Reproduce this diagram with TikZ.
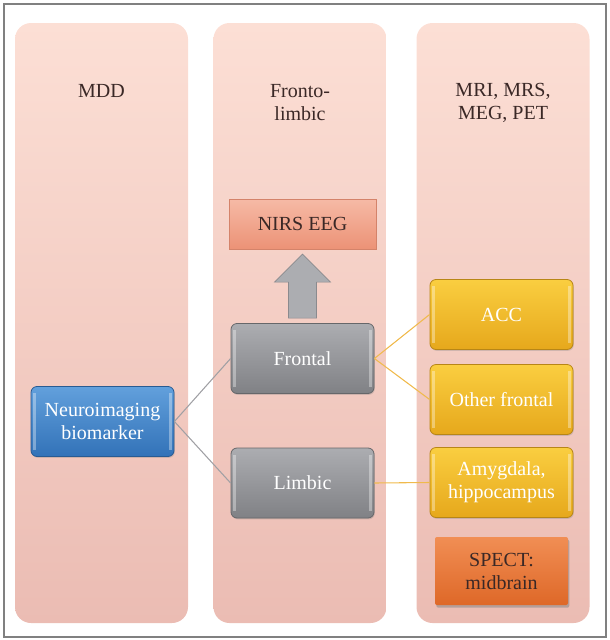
\documentclass[tikz,border=0pt]{standalone}
\usepackage{fontspec}
\setmainfont{Liberation Serif}
\usetikzlibrary{shadows}
\begin{document}
\begin{tikzpicture}[x=0.75pt,y=-0.75pt]
\definecolor{coltop}{RGB}{252,223,213}
\definecolor{colbot}{RGB}{235,188,179}
\definecolor{bluetop}{RGB}{98,160,220}
\definecolor{bluebot}{RGB}{50,114,184}
\definecolor{grytop}{RGB}{172,173,177}
\definecolor{grybot}{RGB}{128,129,133}
\definecolor{goldtop}{RGB}{250,206,64}
\definecolor{goldbot}{RGB}{230,168,28}
\definecolor{nirstop}{RGB}{246,186,166}
\definecolor{nirsbot}{RGB}{236,146,118}
\definecolor{specttop}{RGB}{241,142,84}
\definecolor{spectbot}{RGB}{222,104,40}
\definecolor{darktext}{RGB}{58,40,38}
\tikzstyle{txt}=[font=\fontsize{15}{17.25}\selectfont,align=center]
\tikzstyle{column}=[rounded corners=12pt,top color=coltop,bottom color=colbot,minimum width=129.75pt,minimum height=450pt,inner sep=0pt]
\tikzstyle{title}=[txt,text=darktext]
\tikzstyle{bevel}=[path picture={
  \fill[white,opacity=0.35,sharp corners,draw=none] ([xshift=1.5pt,yshift=-5pt]path picture bounding box.north west) rectangle ([xshift=3.5pt,yshift=5pt]path picture bounding box.south west);
  \fill[white,opacity=0.35,sharp corners,draw=none] ([xshift=-3.5pt,yshift=-5pt]path picture bounding box.north east) rectangle ([xshift=-1.5pt,yshift=5pt]path picture bounding box.south east);}]
\tikzstyle{box}=[txt,text=white,rounded corners=4.5pt,minimum width=107.25pt,minimum height=52.5pt,inner sep=0pt,draw,line width=0.6pt,bevel,drop shadow={shadow xshift=0.6pt,shadow yshift=-1pt,opacity=0.3}]
\tikzstyle{bluebox}=[box,top color=bluetop,bottom color=bluebot,draw=bluebot!80!black]
\tikzstyle{graybox}=[box,top color=grytop,bottom color=grybot,draw=grybot!80!black]
\tikzstyle{goldbox}=[box,top color=goldtop,bottom color=goldbot,draw=goldbot!80!black]
\tikzstyle{nirsbox}=[txt,text=darktext,top color=nirstop,bottom color=nirsbot,draw=nirsbot!90!black,line width=0.5pt,minimum width=110.25pt,minimum height=37.5pt]
\tikzstyle{spectbox}=[txt,text=darktext,rounded corners=1.5pt,top color=specttop,bottom color=spectbot,minimum width=99.75pt,minimum height=51pt,inner sep=0pt,drop shadow={shadow xshift=1pt,shadow yshift=-2pt,opacity=0.5}]
\tikzstyle{graylink}=[draw={rgb,255:red,160;green,160;blue,164},line width=0.8pt]
\tikzstyle{goldlink}=[draw={rgb,255:red,240;green,186;blue,76},line width=0.8pt]
\tikzstyle{uparrow}=[fill=grytop,draw=grytop!80!black,line width=0.5pt]
\useasboundingbox (0,0) rectangle (610,640);
\draw[gray,line width=1.5pt] (4,4) rectangle (606,637);
% columns
\node[column] (c1) at (101.5,323) {};
\node[column] (c2) at (300,323) {};
\node[column] (c3) at (503,323) {};
\node[title] (t1) at (101.5,91) {MDD};
\node[title] (t2) at (300,103) {Fronto-\\limbic};
\node[title] (t3) at (503,103) {MRI, MRS,\\MEG, PET};
% boxes
\node[bluebox] (2) at (102.5,421.5) {Neuroimaging\\biomarker};
\node[nirsbox] (3) at (302.5,224) {NIRS EEG};
\node[graybox] (4) at (302.5,358.5) {Frontal};
\node[graybox] (5) at (302.5,483) {Limbic};
\node[goldbox] (6) at (501.5,314.5) {ACC};
\node[goldbox] (7) at (501.5,399.5) {Other frontal};
\node[goldbox] (8) at (501.5,482.5) {Amygdala,\\hippocampus};
\node[spectbox] (9) at (501.5,571) {SPECT:\\midbrain};
% links
\draw[graylink] (2.east) edge (4.west);
\draw[graylink] (2.east) edge (5.west);
\draw[goldlink] (4.east) edge (6.west);
\draw[goldlink] (4.east) edge (7.west);
\draw[goldlink] (5.east) edge (8.west);
\filldraw[uparrow] ([shift={(-14,-5)}]4.north) -- ++(0,-36) -- ++(-14,0) -- ++(28,-28) -- ++(28,28) -- ++(-14,0) -- ++(0,36) -- cycle;
\end{tikzpicture}
\end{document}
